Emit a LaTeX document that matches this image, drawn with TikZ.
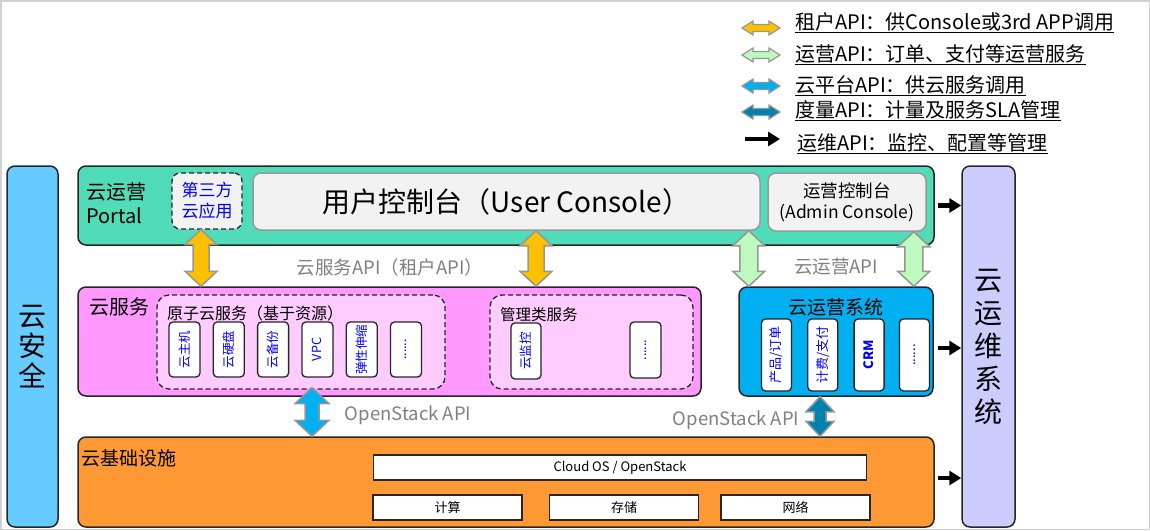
\documentclass[tikz,border=0pt]{standalone}
\usepackage{fontspec}
\setmainfont{Noto Sans CJK SC}
\usepackage{graphicx}
\usetikzlibrary{positioning, calc, arrows.meta}

\definecolor{portalgreen}{RGB}{80,220,185}
\definecolor{svcpink}{RGB}{255,153,255}
\definecolor{atompink}{RGB}{255,204,255}
\definecolor{opsblue}{RGB}{0,176,240}
\definecolor{infraorange}{RGB}{255,153,51}
\definecolor{secblue}{RGB}{102,204,255}
\definecolor{maintlilac}{RGB}{204,204,255}
\definecolor{consolegray}{RGB}{242,242,242}
\definecolor{tenantyellow}{RGB}{255,192,0}
\definecolor{opsgreen}{RGB}{190,250,190}
\definecolor{cloudblue}{RGB}{0,176,240}
\definecolor{meterteal}{RGB}{0,130,175}
\definecolor{apigray}{RGB}{128,128,128}
\definecolor{arrowgray}{RGB}{150,150,150}

\newcommand\legul[1]{\setbox0=\hbox{#1}\leavevmode\rlap{\vrule height -2.6pt depth 3.9pt width \wd0}\box0}

\begin{document}
\begin{tikzpicture}[x=1pt,y=-1pt,
  tier/.style={draw=black!85,line width=1.5pt,rounded corners=8pt,inner sep=0pt},
  panel/.style={draw=black!40,line width=1.5pt,rounded corners=8pt,fill=consolegray,inner sep=0pt,align=center},
  dashgroup/.style={draw=black!85,line width=1.3pt,dash pattern=on 5pt off 3pt,rounded corners=12pt,fill=atompink,inner sep=0pt},
  atombox/.style={draw=black!85,line width=1.3pt,rounded corners=4pt,fill=white,inner sep=0pt,text=blue,
    minimum width=31pt,minimum height=55pt,font=\fontsize{12.5}{14}\selectfont},
  opsitem/.style={atombox,minimum width=30pt,minimum height=72pt,font=\fontsize{13}{15}\selectfont},
  infrabox/.style={draw=black!85,line width=1.5pt,fill=white,inner sep=0pt,minimum height=25pt,font=\fontsize{13}{15}\selectfont},
  apilabel/.style={text=apigray,inner sep=0pt,font=\fontsize{18.5}{21}\selectfont},
  legtext/.style={anchor=base west,inner sep=0pt,font=\fontsize{20}{23}\selectfont},
  opsarrow/.style={-{Triangle[length=12pt,width=14pt]},line width=4.5pt},
  vfat/.style args={#1/#2/#3}{draw=arrowgray,line width=1.5pt,to path={
    let \p1=(\tikztostart), \p2=(\tikztotarget) in
    (\x1,\y1) -- (\x1+#1,\y1-#3) -- (\x1+#2,\y1-#3) -- (\x1+#2,\y2+#3) -- (\x1+#1,\y2+#3) -- (\x1,\y2)
    -- (\x1-#1,\y2+#3) -- (\x1-#2,\y2+#3) -- (\x1-#2,\y1-#3) -- (\x1-#1,\y1-#3) -- cycle}},
  hfat/.style args={#1/#2/#3}{draw=arrowgray,line width=1.2pt,to path={
    let \p1=(\tikztostart), \p2=(\tikztotarget) in
    (\x1,\y1) -- (\x1+#3,\y1+#1) -- (\x1+#3,\y1+#2) -- (\x2-#3,\y1+#2) -- (\x2-#3,\y1+#1) -- (\x2,\y1)
    -- (\x2-#3,\y1-#1) -- (\x2-#3,\y1-#2) -- (\x1+#3,\y1-#2) -- (\x1+#3,\y1-#1) -- cycle}}]

\useasboundingbox (0,0) rectangle (1150,530);
\draw[black!18,line width=1.5pt] (0.75,0.75) rectangle (1149.25,529.25);

\node[tier,fill=secblue,minimum width=51pt,minimum height=361pt,align=center,font=\fontsize{28}{30}\selectfont] (sec) at (32.5,346.5) {云\\安\\全};
\node[tier,fill=maintlilac,minimum width=53pt,minimum height=361pt,align=center,font=\fontsize{28}{33}\selectfont] (maint) at (988.5,346.5) {云\\运\\维\\系\\统};

\node[tier,fill=portalgreen,minimum width=856pt,minimum height=79pt] (portal) at (506,205.5) {};
\node[anchor=west,align=left,inner sep=0pt,font=\fontsize{20}{24}\selectfont] (portallbl) at (86,203) {云运营\\Portal};
\node[dashgroup,fill=consolegray,rounded corners=8pt,minimum width=70pt,minimum height=56pt,text=blue,align=center,font=\fontsize{17}{21}\selectfont] (third) at (207,201) {第三方\\云应用};
\node[panel,minimum width=507pt,minimum height=57pt,font=\fontsize{28}{32}\selectfont] (uc) at (506.5,201.5) {用户控制台（User Console）};
\node[panel,minimum width=158pt,minimum height=58pt,font=\fontsize{17.5}{21}\selectfont] (admin) at (847,202) {运营控制台\\(Admin Console)};

\node[tier,fill=svcpink,minimum width=623pt,minimum height=109pt] (svc) at (389.5,341.5) {};
\node[anchor=west,inner sep=0pt,font=\fontsize{20}{24}\selectfont] (svclbl) at (89,307) {云服务};
\node[dashgroup,minimum width=288pt,minimum height=94pt] (atomic) at (301,342) {};
\node[anchor=west,inner sep=0pt,font=\fontsize{16}{20}\selectfont] (atomiclbl) at (167,313) {原子云服务（基于资源）};
\node[atombox] (vm) at (184.5,349.5) {\rotatebox{90}{云主机}};
\node[atombox,right=12pt of vm] (disk) {\rotatebox{90}{云硬盘}};
\node[atombox,right=12pt of disk] (backup) {\rotatebox{90}{云备份}};
\node[atombox,right=12pt of backup] (vpc) {\rotatebox{90}{VPC}};
\node[atombox,right=12pt of vpc] (scale) {\rotatebox{90}{弹性伸缩}};
\node[atombox,right=12pt of scale] (adots) {\rotatebox{90}{......}};
\node[dashgroup,minimum width=203pt,minimum height=94pt] (mgmt) at (591.5,342) {};
\node[anchor=west,inner sep=0pt,font=\fontsize{15.5}{18}\selectfont] (mgmtlbl) at (500,315) {管理类服务};
\node[atombox,minimum width=30pt,minimum height=56pt] (mon) at (526,351) {\rotatebox{90}{云监控}};
\node[atombox,minimum height=56pt] (mdots) at (645.5,350) {\rotatebox{90}{......}};

\node[tier,fill=opsblue,minimum width=194pt,minimum height=109pt] (ops) at (836,341.5) {};
\node[inner sep=0pt,font=\fontsize{19}{22}\selectfont] (opslbl) at (836,307) {云运营系统};
\node[opsitem] (order) at (776.5,355) {\rotatebox{90}{产品/订单}};
\node[opsitem,right=15pt of order] (billing) {\rotatebox{90}{计费/支付}};
\node[opsitem,right=15pt of billing] (crm) {\rotatebox{90}{\textbf{CRM}}};
\node[opsitem,right=14pt of crm] (odots) {\rotatebox{90}{......}};

\node[tier,fill=infraorange,minimum width=856pt,minimum height=90pt] (infra) at (506,482) {};
\node[anchor=west,inner sep=0pt,font=\fontsize{19}{22}\selectfont] (infralbl) at (81,458) {云基础设施};
\node[infrabox,minimum width=493pt] (cloudos) at (620,467.5) {Cloud OS / OpenStack};
\node[infrabox,minimum width=149pt] (compute) at (447.5,507.5) {计算};
\node[infrabox,minimum width=149pt,right=26pt of compute] (storage) {存储};
\node[infrabox,minimum width=149pt,right=21pt of storage] (network) {网络};

\node[apilabel] (tenantapi) at (390,267) {云服务API（租户API）};
\node[apilabel] (opsapi) at (836,267) {云运营API};
\node[apilabel] (osapi) at (408,415) {OpenStack API};
\node[apilabel] (meterapi) at (736,420) {OpenStack API};

\draw[vfat=16pt/8pt/15pt,fill=tenantyellow] ([xshift=-6pt]third.south) to (svc.north);
\draw[vfat=16pt/8pt/15pt,fill=tenantyellow] ([xshift=29.5pt]uc.south) to (svc.north);
\draw[vfat=16pt/9pt/15pt,fill=opsgreen] ([xshift=-12pt]uc.south east) to (ops.north);
\draw[vfat=16pt/9pt/15pt,fill=opsgreen] ([xshift=-13pt]admin.south east) to (ops.north);
\draw[vfat=17pt/7pt/16pt,fill=cloudblue] ([xshift=11pt,yshift=2pt]atomic.south) to (infra.north);
\draw[vfat=14pt/6pt/15pt,fill=meterteal] ([xshift=-16pt]ops.south) to (infra.north);

\coordinate (opsout) at ([yshift=-6.5pt]ops.east);
\coordinate (infraout) at ([yshift=4pt]infra.east);
\draw[opsarrow] ([xshift=3pt]portal.east) -- (portal.east -| maint.west);
\draw[opsarrow] ([xshift=4pt]opsout) -- (opsout -| maint.west);
\draw[opsarrow] ([xshift=3pt]infraout) -- (infraout -| maint.west);

\coordinate (lgya) at (742,28);
\coordinate (lgyb) at (780,28);
\coordinate (lgga) at (742,55);
\coordinate (lggb) at (780,55);
\coordinate (lgba) at (742,86);
\coordinate (lgbb) at (780,86);
\coordinate (lgta) at (742,112);
\coordinate (lgtb) at (780,112);
\coordinate (lgka) at (745,139);
\coordinate (lgkb) at (780,139);
\draw[hfat=7pt/3.5pt/11pt,fill=tenantyellow] (lgya) to (lgyb);
\draw[hfat=7pt/3.5pt/11pt,fill=opsgreen] (lgga) to (lggb);
\draw[hfat=7pt/3.5pt/11pt,fill=cloudblue] (lgba) to (lgbb);
\draw[hfat=7pt/3.5pt/11pt,fill=meterteal] (lgta) to (lgtb);
\draw[opsarrow,line width=4pt] (lgka) -- (lgkb);
\node[legtext] (lgtenant) at (795,29) {\legul{租户API：供Console或3rd APP调用}};
\node[legtext] (lgops) at (795,61) {\legul{运营API：订单、支付等运营服务}};
\node[legtext] (lgcloud) at (795,92) {\legul{云平台API：供云服务调用}};
\node[legtext] (lgmeter) at (795,117) {\legul{度量API：计量及服务SLA管理}};
\node[legtext] (lgmaint) at (797,150) {\legul{运维API：监控、配置等管理}};
\end{tikzpicture}
\end{document}
